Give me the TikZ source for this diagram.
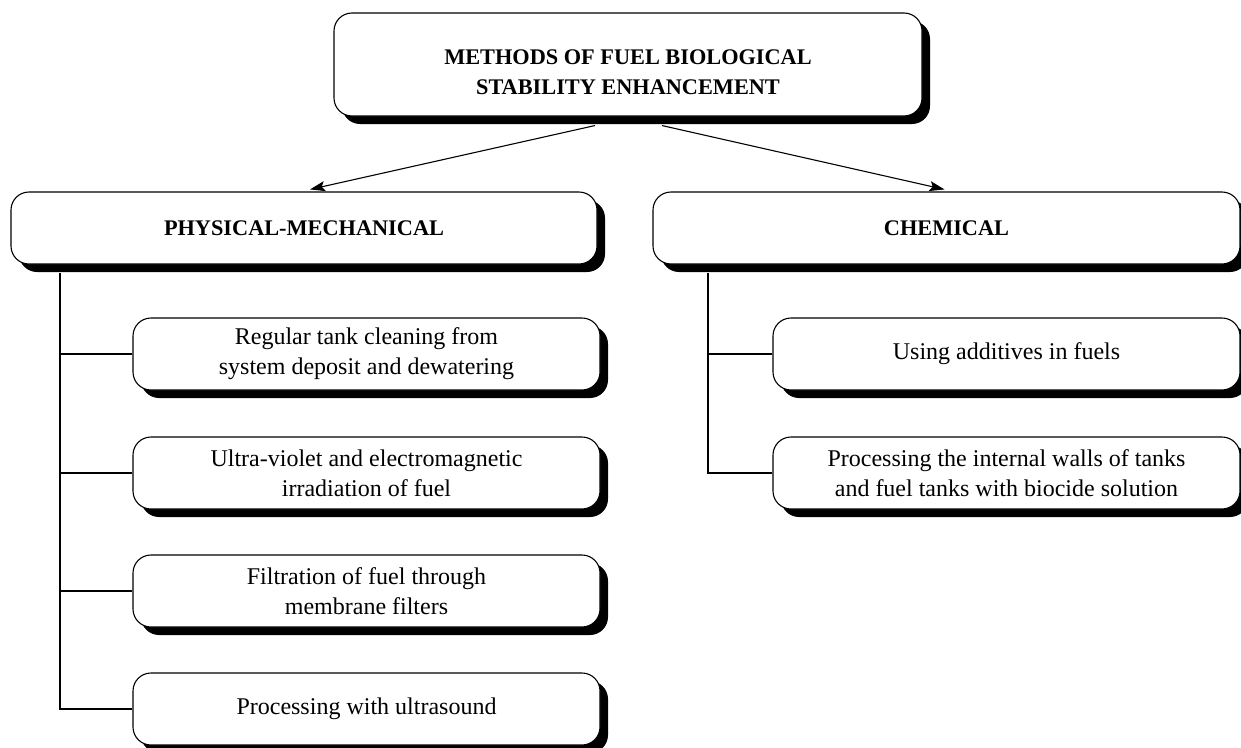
\documentclass[tikz,border=0pt]{standalone}
\usepackage{fontspec}
\setmainfont{Liberation Serif}
\usetikzlibrary{shadows,arrows.meta}
\tikzset{
  box/.style={draw=black, line width=1.1pt, fill=white, rounded corners=18pt,
    align=center, inner sep=0pt,
    drop shadow={shadow xshift=8pt, shadow yshift=-8pt, opacity=1, fill=black}},
  headbox/.style={box, font=\bfseries\fontsize{22.3}{30}\selectfont},
  itembox/.style={box, font=\fontsize{24}{30}\selectfont},
  link/.style={line width=1.1pt},
  arrowlink/.style={line width=1.1pt, -{Stealth[length=15pt,width=10pt,inset=3pt]}}
}
\begin{document}
\begin{tikzpicture}[x=1pt,y=-1pt]
\useasboundingbox (0,0) rectangle (1241,747);
\node[headbox, minimum width=588pt, minimum height=103pt] (top) at (628,64.5)
  {\rule{0pt}{30pt}METHODS OF FUEL BIOLOGICAL\\STABILITY ENHANCEMENT};
\node[headbox, minimum width=586pt, minimum height=72pt] (phys) at (304,228)
  {PHYSICAL-MECHANICAL};
\node[headbox, minimum width=587pt, minimum height=72pt] (chem) at (946.5,228)
  {CHEMICAL};

\node[itembox, minimum width=467pt, minimum height=72pt] (s1) at (366.5,354)
  {Regular tank cleaning from\\system deposit and dewatering};
\node[itembox, minimum width=467pt, minimum height=72pt] (s2) at (366.5,473)
  {Ultra-violet and electromagnetic\\irradiation of fuel};
\node[itembox, minimum width=467pt, minimum height=72pt] (s3) at (366.5,591)
  {Filtration of fuel through\\membrane filters};
\node[itembox, minimum width=467pt, minimum height=72pt] (s4) at (366.5,709)
  {Processing with ultrasound};

\node[itembox, minimum width=467pt, minimum height=72pt] (c1) at (1006.5,354)
  {Using additives in fuels};
\node[itembox, minimum width=467pt, minimum height=72pt] (c2) at (1006.5,473)
  {Processing the internal walls of tanks\\and fuel tanks with biocide solution};

\draw[arrowlink] ([xshift=-33pt,yshift=-9pt]top.south) -- ([xshift=6pt,yshift=2pt]phys.north);
\draw[arrowlink] ([xshift=34pt,yshift=-9pt]top.south) -- ([xshift=-2pt,yshift=2pt]chem.north);

\coordinate (pl) at (60,273);
\draw[link] (pl) |- (s4.west);
\draw[link] (pl |- s1.west) -- (s1.west);
\draw[link] (pl |- s2.west) -- (s2.west);
\draw[link] (pl |- s3.west) -- (s3.west);

\coordinate (cl) at (708,273);
\draw[link] (cl) |- (c2.west);
\draw[link] (cl |- c1.west) -- (c1.west);
\end{tikzpicture}
\end{document}
